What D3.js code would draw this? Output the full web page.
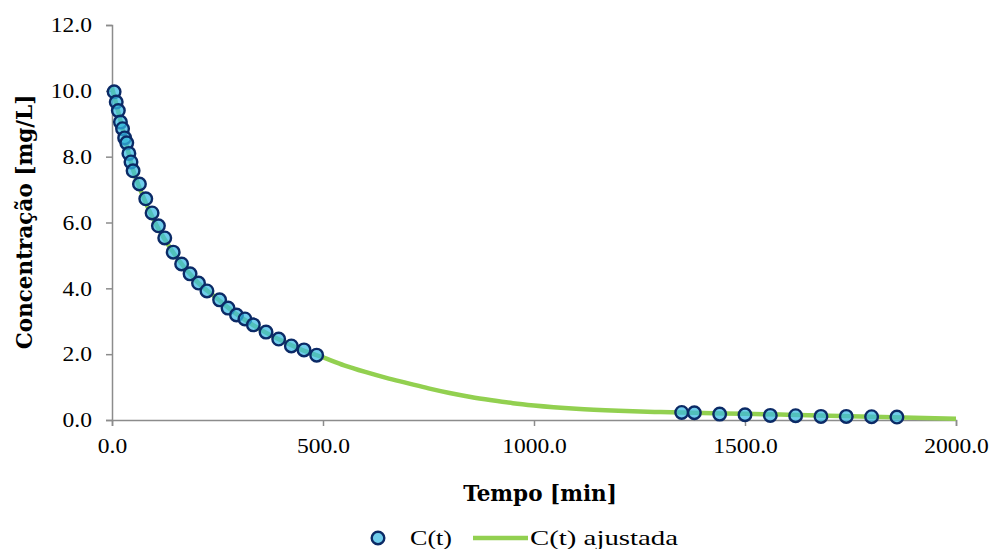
<!DOCTYPE html>
<html>
<head>
<meta charset="utf-8">
<script src="https://cdn.jsdelivr.net/npm/d3@7"></script>
<style>
  html, body { margin: 0; padding: 0; background: #fff; }
  svg { display: block; font-family: "Liberation Serif", serif; }
  .title { font-family: "DejaVu Serif", "Liberation Serif", serif; font-weight: bold; font-size: 21.5px; }
  .lbl { font-family: "Liberation Serif", serif; font-size: 21px; }
</style>
</head>
<body>
<svg id="chart" width="994" height="549"></svg>
<script>
// Measured concentration C(t) [mg/L] at time t [min]
const tMeasured = [5, 10, 15, 20, 25, 30, 35, 40, 45, 50, 65, 80, 95, 110, 125, 145, 165, 185, 205, 225,
                   255, 275, 295, 315, 335, 365, 395, 425, 455, 485,
                   1350, 1380, 1440, 1500, 1560, 1620, 1680, 1740, 1800, 1860];
const cMeasured = [9.97, 9.66, 9.40, 9.05, 8.85, 8.57, 8.42, 8.10, 7.84, 7.57, 7.17, 6.72, 6.29, 5.90, 5.53,
                   5.10, 4.74, 4.44, 4.16, 3.92, 3.65, 3.40, 3.19, 3.07, 2.89, 2.67, 2.46, 2.25, 2.13, 1.97,
                   0.23, 0.22, 0.18, 0.16, 0.14, 0.13, 0.11, 0.11, 0.10, 0.09];

// Fitted curve C(t) ajustada
const tFit = [0, 25, 50, 75, 100, 150, 200, 250, 300, 350, 400, 450, 500, 550, 600, 650, 700, 750, 800,
              850, 900, 950, 1000, 1100, 1200, 1300, 1400, 1500, 1600, 1700, 1800, 1900, 2000];
const cFit = [10.1, 8.85, 7.6, 6.75, 6.05, 5.0, 4.22, 3.68, 3.17, 2.76, 2.42, 2.13, 1.90, 1.66, 1.46, 1.28,
              1.12, 0.96, 0.82, 0.70, 0.60, 0.51, 0.44, 0.34, 0.28, 0.24, 0.21, 0.19, 0.16, 0.13, 0.10, 0.07, 0.04];

const xTicks = [0, 500, 1000, 1500, 2000];
const yTicks = [0, 2, 4, 6, 8, 10, 12];

const xLabel = "Tempo [min]";
const yLabel = "Concentração [mg/L]";
const seriesNames = ["C(t)", "C(t) ajustada"];

const axisColor = "#8c8c8c";
const lineColor = "#92d050";
const markerStroke = "#0b2a66";
const markerFill = "#37bae4";

const svg = d3.select("#chart");

const x = d3.scaleLinear().domain([0, 2000]).range([112, 956]);
const y = d3.scaleLinear().domain([0, 12]).range([420, 25]);
const fmt = d3.format(".1f");

// Axes
const xAxis = svg.append("g")
  .attr("transform", `translate(0,${y(0)})`)
  .call(d3.axisBottom(x).tickValues(xTicks).tickFormat(fmt).tickSizeOuter(0).tickSize(6).tickPadding(12));
const yAxis = svg.append("g")
  .attr("transform", `translate(${x(0)},0)`)
  .call(d3.axisLeft(y).tickValues(yTicks).tickFormat(fmt).tickSizeOuter(0).tickSize(6).tickPadding(14));

[xAxis, yAxis].forEach(g => {
  g.attr("font-family", null).attr("font-size", null);
  g.select(".domain").attr("stroke", axisColor).attr("stroke-width", 1.5);
  g.selectAll(".tick line").attr("stroke", axisColor).attr("stroke-width", 1.5);
  g.selectAll(".tick text")
    .attr("fill", "#000")
    .attr("class", "lbl")
    .each(function () {
      // slightly wider numerals
      const w = this.getComputedTextLength();
      d3.select(this).attr("textLength", w * 1.12).attr("lengthAdjust", "spacingAndGlyphs");
    });
});

// Axis titles
svg.append("text")
  .attr("class", "title")
  .attr("x", 540).attr("y", 501)
  .attr("text-anchor", "middle")
  .text(xLabel);

svg.append("text")
  .attr("class", "title")
  .attr("transform", `translate(32,222) rotate(-90)`)
  .attr("text-anchor", "middle")
  .text(yLabel);

// Fitted curve
const fitData = tFit.map((t, i) => ({ t, c: cFit[i] }));
const line = d3.line().x(d => x(d.t)).y(d => y(d.c)).curve(d3.curveMonotoneX);
svg.append("path")
  .datum(fitData)
  .attr("d", line)
  .attr("fill", "none")
  .attr("stroke", lineColor)
  .attr("stroke-width", 4.5)
  .attr("stroke-linecap", "butt");

// Measured points
const pts = tMeasured.map((t, i) => ({ t, c: cMeasured[i] }));
svg.append("g").selectAll("circle")
  .data(pts)
  .join("circle")
  .attr("cx", d => x(d.t))
  .attr("cy", d => y(d.c))
  .attr("r", 6.3)
  .attr("fill", markerFill)
  .attr("fill-opacity", 0.72)
  .attr("stroke", markerStroke)
  .attr("stroke-width", 2.4);

// Legend
const legend = svg.append("g").attr("transform", "translate(0,538)");
legend.append("circle")
  .attr("cx", 378).attr("cy", 0).attr("r", 6.3)
  .attr("fill", markerFill).attr("fill-opacity", 0.72)
  .attr("stroke", markerStroke).attr("stroke-width", 2.4);
legend.append("text")
  .attr("class", "lbl")
  .attr("x", 410).attr("y", 7)
  .style("font-size", "22px")
  .attr("textLength", 42).attr("lengthAdjust", "spacingAndGlyphs")
  .text(seriesNames[0]);
legend.append("line")
  .attr("x1", 473).attr("x2", 528).attr("y1", 0).attr("y2", 0)
  .attr("stroke", lineColor).attr("stroke-width", 4.5);
legend.append("text")
  .attr("class", "lbl")
  .attr("x", 530).attr("y", 7)
  .style("font-size", "22px")
  .attr("textLength", 148).attr("lengthAdjust", "spacingAndGlyphs")
  .text(seriesNames[1]);
</script>
</body>
</html>
